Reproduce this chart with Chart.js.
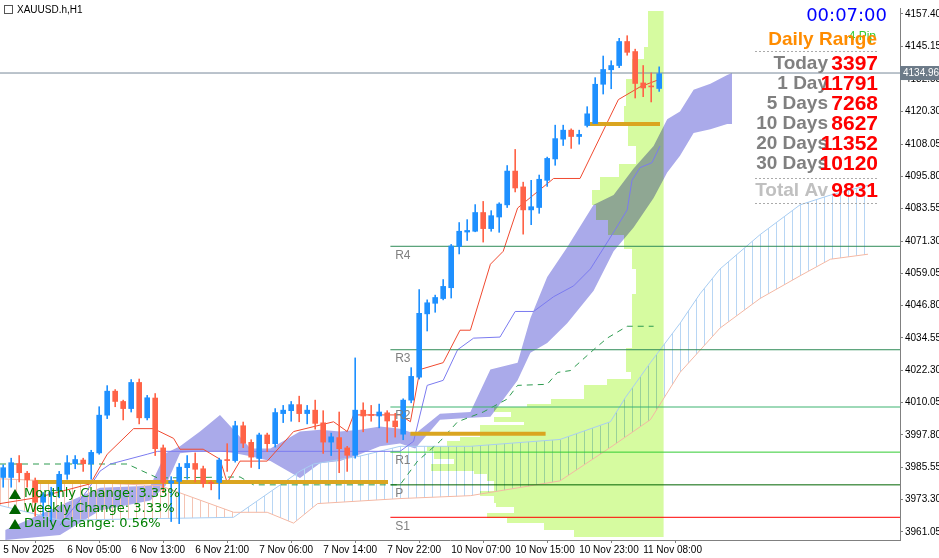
<!DOCTYPE html>
<html><head><meta charset="utf-8">
<script src="https://cdn.jsdelivr.net/npm/chart.js@4/dist/chart.umd.min.js"></script>
<style>html,body{margin:0;padding:0;background:#fff}#w{width:939px;height:558px}</style>
</head><body><div id="w"><canvas id="c"></canvas></div>
<script>
const opens=[3981.7,3981.7,3987,3983.3,3980.4,3972.3,3975,3976.7,3982.9,3986.9,3988.3,3986.9,3991,4005.3,4014.4,4010.5,4007.8,4017.7,4004.3,4011.8,3992.9,3979.5,3980.2,3985.4,3987,3985,3979.8,3979.8,3988.3,3988.1,4001.3,3995,3988.9,3997.8,3994.5,4005.9,4007,4009.3,4005.9,4007.2,4002.4,3995.1,3996.8,3992.9,3990.1,4007.2,4005.3,4005,4006.2,4003.1,3998.1,4011,4019.7,4043.7,4047.7,4049.5,4053.6,4069.2,4074.7,4075,4082.1,4076,4080.4,4085,4097.8,4091.8,4083.1,4084,4094.3,4102.4,4109.9,4113.3,4110.9,4115.1,4115.8,4130.7,4136.2,4137.8,4146.9,4143.1,4131.2,4130,4129.1];
const highs=[3986.5,3989,3990,3984,3981.5,3976,3978,3984,3990,3990,3989,3992,4008.5,4016.5,4015,4011,4018.8,4019,4012.8,4013.5,3994,3982,3987,3990,3991,3986,3980.5,3989,3994.5,4003,4002.7,3996,3998.5,3998.5,4007.8,4009,4010.5,4012.5,4009,4011,4007,3998.5,4006.5,3993.5,4027,4010,4009,4009.5,4007,4006,4011.5,4023.3,4052.9,4049,4050.8,4056.7,4070,4078.3,4079.4,4085.1,4086.3,4082.8,4085.8,4099.9,4106,4093.6,4094.3,4096.3,4103.1,4115.2,4115.2,4113.8,4113.3,4122.2,4133.2,4141.4,4139.6,4148.1,4149.1,4144,4137.8,4135,4137.3];
const lows=[3978,3978,3980,3978,3967,3967,3965,3974,3981,3985,3984,3981,3990.5,4004,4008.5,4003.5,4006.5,4002,4003.5,3990,3976,3965,3964.2,3981,3980,3978,3977,3973.5,3984,3987.5,3993,3985.5,3985,3991.5,3993.2,4002.5,4003,4002.8,4002,4000,3990.8,3990,3983.5,3984,3989,3999,4003,4000.5,3995,3997,3996,4010,4019,4037.2,4044.3,4049,4049.7,4066.4,4071.5,4074.8,4070.9,4075,4074.6,4084,4089.9,4073.9,4077.5,4081.8,4092,4100,4107.5,4106.4,4108,4114.5,4116,4127,4129,4137,4141.7,4125.5,4126,4124,4128];
const closes=[3985.4,3987.3,3983.5,3980.8,3972.3,3975.2,3976,3982.9,3987.3,3988.5,3986.9,3991.2,4005.3,4014.4,4010.5,4007.8,4017.7,4004.3,4011.9,3992.6,3979.8,3980.4,3985.6,3987,3984.8,3979.4,3979.4,3988.3,3988.1,4001.3,3994.7,3989.4,3997.8,3994.5,4006.3,4007.2,4009.3,4005.9,4007.2,4002.2,3995.1,3997.1,3992.6,3990.1,4007.2,4005,4005.2,4006.5,4003.1,4000.9,4011,4020,4043.9,4047.9,4049.9,4054.1,4069.4,4075,4075.3,4082.1,4076,4080.9,4085.3,4097.8,4091.4,4083.1,4084.3,4094.7,4102.6,4110.1,4113.3,4110.9,4111.7,4119.5,4130.7,4136.3,4137.8,4146.9,4142.8,4131,4129.3,4129.7,4134.7];

const timeTickIdx=[0,8,16,24,32,40,48,56,64,72,80];
const timeLabels=['5 Nov 2025','6 Nov 05:00','6 Nov 13:00','6 Nov 21:00','7 Nov 06:00','7 Nov 14:00','7 Nov 22:00','10 Nov 07:00','10 Nov 15:00','10 Nov 23:00','11 Nov 08:00'];
const priceTicks=[4157.40,4145.15,4132.55,4120.30,4108.05,4095.80,4083.55,4071.30,4059.05,4046.80,4034.55,4022.30,4010.05,3997.80,3985.55,3973.30,3961.05];

const tenkanIdx=[-0.4,4.3,10.9,13,16.3,18.8,21.3,22.1,25,27.1,28,29.6,33,36.3,41.3,43,43.8,49.6,50.9,52.1,55,57.1,58.4,60.9,62.5,64.3,68.8,72.1,76.9,79.6,81.9];
const tenkanVal=[3971.8,3974.1,3979.3,3990.5,4000.2,4000.2,3996.5,3992.4,3992.4,3988.6,3979.7,3987.9,3987.9,3999.1,4002.8,3999.1,4005.4,4005.4,4002.8,4022.6,4025.2,4037.5,4037.5,4062.5,4067.4,4083.8,4095.0,4095.0,4124.9,4129.7,4132.4];
const kijunIdx=[7.1,10.5,12.1,13.4,18,19.3,49.6,51.3,53,55,56.8,58.8,62.1,64,66.3,68.8,71.3,73.4,76.5,78,78.6,79.6,81.1,82.1];
const kijunVal=[3963.6,3976.7,3984.1,3986.8,3990.5,3991.6,3991.6,3995.4,4016.6,4018.5,4030.1,4034.5,4034.9,4044.6,4044.6,4050.2,4054.3,4060.7,4075.6,4083.1,4094.3,4099.1,4101.0,4107.3];
const chikouIdx=[-0.4,15.5,19.3,29.6,31.3,49.6,51.8,54.6,56.8,60,63,64.3,68,69.3,70.9,73.8,75.5,78,81.3];
const chikouVal=[3986.8,3986.8,3981.5,3981.9,3978.9,3978.9,3987.9,3995.4,4002.8,4006.5,4011.4,4016.6,4017.0,4021.5,4022.2,4030.1,4034.5,4039.0,4039.0];
const cloudIdx=[0.25,7.1,12.1,18.4,20.3,22.1,24.6,27.1,29,30.9,33.4,37.1,39.6,42.1,44.6,47.1,49.6,51.5,54.6,58.4,60.9,64.3,65.9,68,70.5,73.8,76.3,78.8,81.3,83,84.6,86.3,88.4,90.5,91.1];
const cloudTop=[3961.8,3971.1,3977.8,3978.6,3990.9,3993.5,3999.1,4005.4,3999.1,3992.7,3992.7,3999.1,3999.8,3999.1,3999.8,4001.0,4000.2,3998.3,4005.8,4006.5,4022.6,4025.2,4042.0,4057.7,4068.9,4085.0,4088.7,4098.8,4107.3,4117.4,4120.4,4128.6,4130.9,4134.2,4135.0];
const cloudBot=[3958.0,3959.9,3969.2,3973.0,3978.6,3990.9,3991.6,3991.6,3990.9,3989.7,3987.9,3981.5,3987.1,3987.9,3990.5,3993.5,3994.6,3992.7,4003.6,4004.3,4004.7,4018.5,4029.0,4032.7,4040.1,4052.5,4067.4,4076.4,4087.6,4097.3,4103.6,4112.2,4113.7,4115.6,4115.6];
const hiSpanIdx=[-0.4,7.1,28.8,37.1,38.8,44.6,49.6,58.4,69.6,75.9,77.8,80.9,84.6,87.1,89.6,94.6,99.6,103.4,108.1];
const hiSpanVal=[3971.1,3965.5,3966.6,3984.1,3986.8,3989.8,3993.5,3993.5,3996.1,4002.8,4012.1,4025.2,4040.1,4051.3,4060.7,4073.7,4085.0,4088.7,4092.4];
const loSpanIdx=[-0.4,19.6,28.8,33,36.3,39.3,49.6,58.4,69.6,76.1,80.9,84.6,89.6,94.6,99.6,103.4,108.1];
const loSpanVal=[3981.2,3978.6,3968.5,3968.5,3964.4,3971.8,3973.7,3974.8,3980.4,3993.5,4003.6,4021.5,4038.3,4049.5,4058.1,4064.4,4066.3];
const profileEdges=[4158.5,4144.7,4140.2,4132.7,4122.3,4114.8,4107.3,4100.6,4095.4,4090.5,4085.0,4079.3,4073.7,4068.1,4060.7,4051.4,4040.1,4030.8,4021.5,4018.9,4016.6,4011.4,4009.5,4008.4,4006.5,4004.7,4002.8,4001.7,3997.2,3995.4,3993.5,3991.6,3988.6,3986.8,3984.1,3983.0,3980.4,3976.7,3974.8,3972.2,3970.4,3968.1,3966.2,3964.4,3961.8,3959.1];
const profileVol=[1.9,2.5,4,4.75,5,4.4,3.5,5.6,7.9,9,8.5,6.9,5,4,3.5,4,4,4.75,4.1,7.1,10,14.1,17.1,21.25,19.1,21.25,17.5,22.9,25.4,27.1,29.6,28.75,26.25,29.1,23.75,22.1,21.25,22.9,21.25,20.9,18.75,22.1,19.6,15,11.25];
const pivotNames=['R4','R3','R2','R1','P','S1'];
const pivotVals=[4069.3,4030.1,4008.4,3991.3,3978.9,3966.6];
const pivotColors=['#2e8b57','#2e8b57','#3cb371','#32cd32','#006400','#ff0000'];
const goldLevels=[3980.0,3998.3,4115.6];
const goldFrom=[4,50.9,73];
const goldTo=[48.1,67.8,82.1];
const currentPrice=4134.96;
const rangeLabels=['Today','1 Day','5 Days','10 Days','20 Days','30 Days'];
const rangeValues=['3397','11791','7268','8627','11352','10120'];
const totalAvg='9831';
const changeLabels=['Monthly Change: 3.33%','Weekly Change: 3.33%','Daily Change: 0.56%'];

const XMIN=-0.4, XMAX=112.1, YMIN=3958.0, YMAX=4159.6;
const pts=(a,b)=>a.map((x,i)=>({x:x,y:b[i]}));
function hatch(color){const c=document.createElement('canvas');c.width=8;c.height=2;const g=c.getContext('2d');g.fillStyle=color;g.fillRect(0,0,1,2);return g.createPattern(c,'repeat');}
const ctx=document.getElementById('c').getContext('2d');
const up='#1e90ff', dn='#ff6347';
const candleColors=closes.map((c,i)=>c>=opens[i]?up:dn);

const datasets=[
 {type:'line',label:'cloudTop',data:pts(cloudIdx,cloudTop),borderWidth:0,pointRadius:0,fill:false,order:20,borderColor:'rgba(0,0,0,0)'},
 {type:'line',label:'cloudBot',data:pts(cloudIdx,cloudBot),borderWidth:0,pointRadius:0,fill:'-1',backgroundColor:'#aaaaea',order:19,borderColor:'rgba(0,0,0,0)'},
 {type:'line',label:'hiSpan',data:pts(hiSpanIdx,hiSpanVal),borderWidth:1,borderColor:'#a8cdf2',pointRadius:0,fill:false,order:18},
 {type:'line',label:'loSpan',data:pts(loSpanIdx,loSpanVal),borderWidth:1,borderColor:'#f4b8a4',pointRadius:0,fill:{target:'-1',above:hatch('#f4c4b4'),below:hatch('#b8d6f4')},order:17},
 {type:'line',label:'chikou',data:pts(chikouIdx,chikouVal),borderWidth:1,borderColor:'#2e9b50',borderDash:[6,5],pointRadius:0,fill:false,order:12},
 {type:'line',label:'kijun',data:pts(kijunIdx,kijunVal),borderWidth:1,borderColor:'#7b7bf0',pointRadius:0,fill:false,order:11},
 {type:'line',label:'tenkan',data:pts(tenkanIdx,tenkanVal),borderWidth:1,borderColor:'#f04a30',pointRadius:0,fill:false,order:10},
];
pivotVals.forEach((v,i)=>datasets.push({type:'line',label:pivotNames[i],data:[{x:48.4,y:v},{x:XMAX,y:v}],borderWidth:1,borderColor:pivotColors[i],pointRadius:0,fill:false,order:9}));
goldLevels.forEach((v,i)=>datasets.push({type:'line',label:'g'+i,data:[{x:goldFrom[i],y:v},{x:goldTo[i],y:v}],borderWidth:4,borderColor:'#daa520',pointRadius:0,fill:false,order:8}));
datasets.push({type:'line',label:'cur',data:[{x:XMIN,y:currentPrice},{x:XMAX,y:currentPrice}],borderWidth:1,borderColor:'#778899',pointRadius:0,fill:false,order:7});
datasets.push({type:'bar',label:'wick',data:opens.map((o,i)=>({x:i,y:[lows[i],highs[i]]})),backgroundColor:candleColors,barThickness:1,order:3,grouped:false});
datasets.push({type:'bar',label:'body',data:opens.map((o,i)=>({x:i,y:[o,closes[i]]})),backgroundColor:candleColors,barThickness:5,minBarLength:1,order:2,grouped:false});

const F='"Liberation Sans"';
const overlay={id:'overlay',
 beforeDatasetsDraw(ch){const {ctx:c,scales:{x,y}}=ch;const right=x.getPixelForValue(closes.length-1+0.55);
  c.save();c.globalCompositeOperation='multiply';c.fillStyle='#d6fba0';
  for(let i=0;i<profileVol.length;i++){const y1=Math.round(y.getPixelForValue(profileEdges[i])),y2=Math.round(y.getPixelForValue(profileEdges[i+1]));const l=Math.round(x.getPixelForValue(closes.length-1+0.55-profileVol[i]));c.fillRect(l,y1,right-l,y2-y1);}
  c.restore();},
 afterDraw(ch){const {ctx:c,scales:{x,y}}=ch;c.save();
  c.font='12px '+F;c.fillStyle='#808080';c.textBaseline='top';c.textAlign='left';
  pivotVals.forEach((v,i)=>c.fillText(pivotNames[i],x.getPixelForValue(49),y.getPixelForValue(v)+3));
  c.fillStyle='#000';c.font='10px '+F;c.textBaseline='middle';c.fillText('XAUUSD.h,H1',17,10);
  c.strokeStyle='#555';c.strokeRect(4.5,5.5,8,8);
  c.textAlign='right';c.fillStyle='#0000ff';c.font='18px "DejaVu Sans"';c.fillText('00:07:00',887,16);
  c.fillStyle='#33cc33';c.font='12px '+F;c.fillText('4 Pip',876,37);
  c.fillStyle='#ff8c00';c.font='bold 19px '+F;c.fillText('Daily Range',877,40);
  const dash=(yy)=>{c.save();c.strokeStyle='#aaa';c.setLineDash([2,2]);c.beginPath();c.moveTo(755,yy+.5);c.lineTo(878,yy+.5);c.stroke();c.restore();};
  dash(51);
  rangeLabels.forEach((t,i)=>{const yy=64+i*20;c.font='bold 19px '+F;c.fillStyle='#808080';c.textAlign='right';c.fillText(t,828,yy);c.fillStyle='#ff0000';c.font='bold 21px '+F;c.fillText(rangeValues[i],878,yy);});
  dash(178);
  c.font='bold 19px '+F;c.fillStyle='#c0c0c0';c.textAlign='right';c.fillText('Total Av',828,191);
  c.fillStyle='#ff0000';c.font='bold 21px '+F;c.fillText(totalAvg,878,191);
  dash(203);
  c.textAlign='left';c.font='13px "DejaVu Sans"';
  changeLabels.forEach((t,i)=>{const yy=494+i*15;c.fillStyle='#006400';c.beginPath();c.moveTo(9,yy+5);c.lineTo(15,yy-5);c.lineTo(21,yy+5);c.closePath();c.fill();c.fillStyle='#008000';c.fillText(t,24,yy);});
  const py=y.getPixelForValue(currentPrice);c.fillStyle='#6c7a88';c.fillRect(900,py-7,39,14);
  c.fillStyle='#fff';c.font='10px '+F;c.textAlign='left';c.fillText(currentPrice.toFixed(2),903,py);
  c.restore();}
};

new Chart(ctx,{type:'bar',data:{datasets},plugins:[overlay],
 options:{responsive:true,maintainAspectRatio:false,animation:false,events:[],
  layout:{padding:0},
  plugins:{legend:{display:false},tooltip:{enabled:false},filler:{drawTime:'beforeDatasetsDraw'}},
  scales:{
   x:{type:'linear',min:XMIN,max:XMAX,offset:false,
    afterBuildTicks:a=>{a.ticks=timeTickIdx.map(v=>({value:v}));},
    afterFit:a=>{a.height=18;},
    ticks:{autoSkip:false,maxRotation:0,align:'start',padding:1,color:'#000',font:{size:10,family:'Liberation Sans'},callback:(v,i)=>timeLabels[i]},
    grid:{drawOnChartArea:false,tickLength:3,color:'#808080'},border:{color:'#808080'}},
   y:{type:'linear',position:'right',min:YMIN,max:YMAX,
    afterBuildTicks:a=>{a.ticks=priceTicks.map(v=>({value:v}));},
    afterFit:a=>{a.width=39;},
    ticks:{autoSkip:false,padding:2,color:'#000',font:{size:10,family:'Liberation Sans'},callback:v=>v.toFixed(2)},
    grid:{drawOnChartArea:false,tickLength:3,color:'#808080'},border:{color:'#808080'}}
  }}});
</script></body></html>
